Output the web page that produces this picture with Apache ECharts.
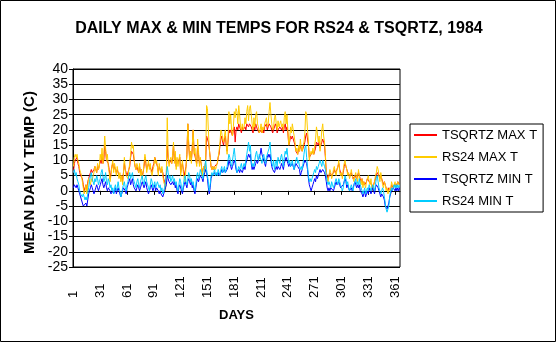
<!DOCTYPE html>
<html>
<head>
<meta charset="utf-8">
<script src="https://cdn.jsdelivr.net/npm/echarts@6/dist/echarts.min.js"></script>
<style>
html,body{margin:0;padding:0;background:#fff;}
#chart{width:558px;height:344px;}
</style>
</head>
<body>
<div id="chart"></div>
<script>
var days = [];
for (var d = 1; d <= 366; d++) { days.push(String(d)); }

var yTicks = [-25, -20, -15, -10, -5, 0, 5, 10, 15, 20, 25, 30, 35, 40];

var tsqrtzMax = [
6,9,10,10,11,9,8,6,5,5,
4,2,0,1,2,0,3,4,5,6,
7,6,6,7,8,7,6,8,7,7,
10,9,12,9,10,15,13,10,10,9,
7,4,6,8,9,7,8,7,6,7,
7,5,5,4,5,3,6,9,7,6,
5,5,7,8,11,13,13,12,10,8,
7,8,8,6,8,6,7,5,6,8,
11,9,7,8,9,8,8,7,6,8,
9,11,10,9,8,6,8,7,6,7,
6,4,3,2,6,15,11,9,10,10,
9,11,15,10,12,8,10,9,10,11,
6,8,9,7,5,5,8,12,22,15,
11,13,10,14,20,13,13,10,9,15,
12,9,10,9,6,7,8,7,10,18,
17,16,14,11,8,7,8,7,8,8,
8,9,11,12,15,17,18,16,15,17,
18,15,13,16,20,19,20,19,18,20,
21,16,20,21,20,22,21,20,19,21,
20,20,21,20,22,22,21,22,22,21,
20,19,21,20,22,21,20,20,19,19,
20,19,20,19,21,21,22,20,21,22,
22,21,20,19,20,21,22,21,19,20,
20,21,21,20,21,19,21,22,20,21,
19,15,16,18,17,18,17,16,15,13,
13,12,14,13,15,14,13,14,15,16,
18,19,17,15,11,11,12,12,13,12,
13,14,16,16,15,16,14,15,16,17,
16,15,11,6,5,4,5,6,6,5,
5,6,7,6,6,7,8,9,7,6,
6,5,6,8,9,8,7,6,6,5,
5,6,5,4,4,5,5,4,4,6,
5,4,3,4,2,3,2,2,3,4,
4,3,3,3,2,1,2,3,4,5,
6,6,5,4,5,4,3,2,3,2,
1,1,0,1,1,0,2,2,1,2,
2,2,2,3,3,2
];

var rs24Max = [
8,11,12,11,12,10,9,7,6,5,
3,1,-1,0,2,-1,2,4,3,2,
4,3,5,6,8,7,6,9,7,8,
12,10,14,9,12,18,14,10,12,8,
6,3,5,8,10,6,9,7,5,8,
8,4,6,3,5,2,6,11,7,5,
5,4,7,9,12,16,14,15,10,8,
7,9,8,6,9,5,7,4,6,9,
12,10,6,8,10,7,9,6,5,7,
8,11,9,10,8,5,9,7,6,8,
5,3,2,0,6,24,12,8,10,11,
9,12,16,9,13,7,11,8,10,12,
5,8,10,6,4,3,8,12,22,16,
10,13,9,15,20,12,14,10,8,17,
13,8,11,9,5,7,8,6,10,28,
27,20,14,11,8,7,8,7,8,7,
8,9,11,13,16,20,19,17,16,18,
20,15,12,17,26,22,25,20,18,21,
26,24,27,26,22,28,25,21,20,22,
20,21,24,22,26,28,23,27,28,25,
22,20,24,21,25,26,22,21,19,20,
22,19,21,20,22,23,24,21,22,26,
29,25,22,20,21,24,25,22,20,23,
21,22,23,21,22,20,24,26,22,25,
20,15,17,21,19,22,20,18,16,13,
14,12,15,13,17,14,13,15,16,19,
26,25,20,16,10,12,13,12,14,12,
15,17,21,19,16,18,13,16,20,22,
18,16,12,5,4,3,5,7,6,4,
5,7,8,6,5,7,8,10,6,5,
6,4,7,9,10,8,7,5,6,4,
5,7,5,4,3,5,6,4,3,7,
5,3,2,4,1,3,2,1,3,4,
5,3,2,4,1,0,2,3,5,6,
8,7,5,3,6,4,2,1,3,2,
0,1,-1,0,1,-1,3,2,1,2,
3,1,2,3,2,2
];

var tsqrtzMin = [
1,2,2,1,2,1,0,-1,-2,-3,
-4,-5,-5,-5,-4,-5,-3,-1,0,1,
2,1,0,-1,0,1,2,1,0,1,
2,3,4,2,1,2,3,1,0,1,
1,0,-1,-1,0,-1,0,1,-1,0,
1,0,-1,-2,-1,0,1,1,0,-1,
1,2,3,4,2,3,4,2,1,1,
0,1,2,1,0,1,2,3,2,1,
2,3,1,0,-1,-1,1,2,1,0,
1,2,0,1,1,0,-1,0,-1,-1,
-2,-1,0,1,2,5,4,3,3,2,
2,3,2,3,1,2,0,-1,1,2,
2,0,-1,1,2,3,2,1,3,4,
3,2,3,1,2,0,-1,1,3,4,
3,4,5,5,4,3,5,6,7,6,
4,1,-1,1,4,5,5,5,6,5,
5,5,6,5,5,6,7,6,6,7,
6,6,7,8,10,9,8,7,8,9,
10,9,7,6,6,7,6,7,7,6,
7,8,7,9,10,11,12,11,12,9,
7,8,7,8,9,10,9,10,11,12,
14,12,11,10,9,8,10,11,12,11,
12,10,8,7,7,6,7,8,7,8,
8,7,8,9,8,7,9,10,11,10,
9,8,9,8,8,9,8,7,8,9,
9,8,8,7,5,6,7,8,9,10,
10,9,7,4,2,1,0,1,2,3,
4,3,5,4,5,6,7,6,6,7,
7,6,5,3,1,0,1,0,1,1,
1,0,1,2,3,2,2,3,2,1,
1,1,2,3,4,3,1,2,1,0,
0,1,0,1,2,3,2,1,2,1,
2,0,0,-1,-2,-1,0,-2,-1,0,
-1,1,0,-1,0,1,0,-1,1,2,
2,1,0,-1,-2,-1,-1,-2,-3,-5,
-5,-6,-5,-4,-2,-1,0,0,1,1,
0,1,0,1,0,1
];

var rs24Min = [
6,7,5,6,4,3,2,0,-1,-1,
-2,-1,-2,-3,-2,-3,-1,1,3,5,
6,4,3,2,4,3,5,4,2,3,
4,6,7,5,3,4,6,3,2,4,
3,1,2,0,1,-1,1,2,0,1,
3,1,0,-2,-1,1,2,3,1,0,
2,3,5,6,4,5,6,4,3,2,
1,3,4,2,1,3,4,5,3,2,
4,5,3,2,1,0,2,4,3,1,
2,3,1,2,3,2,1,2,0,1,
-1,0,1,3,5,8,6,4,5,3,
4,5,3,4,2,3,1,0,2,4,
3,1,0,2,4,5,3,2,4,6,
5,3,4,2,3,1,0,2,5,6,
4,5,7,6,5,4,6,8,10,7,
5,3,0,2,5,6,5,6,7,5,
6,5,7,6,5,7,8,6,7,8,
6,7,8,10,12,11,9,8,10,12,
14,11,8,6,7,8,7,8,9,7,
8,9,8,10,12,14,16,13,15,10,
8,9,8,10,12,13,11,10,12,11,
10,9,11,12,10,9,11,12,13,14,
16,12,9,8,10,7,9,10,8,11,
10,9,11,12,10,8,11,13,12,14,
11,9,10,8,9,10,8,7,9,10,
11,9,10,8,7,8,7,9,12,14,
15,11,8,5,3,4,3,4,5,6,
7,6,8,7,8,9,10,9,8,10,
9,8,7,5,3,2,3,2,1,3,
2,1,2,3,4,3,2,4,3,2,
1,0,1,3,5,4,2,3,1,0,
1,2,1,0,2,3,4,2,3,2,
4,2,1,0,-1,0,1,-1,0,1,
0,2,1,0,1,2,1,0,2,4,
5,3,1,0,-1,0,1,0,-2,-4,
-6,-7,-6,-5,-2,0,1,0,1,2,
1,2,1,2,1,2
];

var seriesNames = ['TSQRTZ MAX T', 'RS24 MAX T', 'TSQRTZ MIN T', 'RS24 MIN T'];
var seriesData = [tsqrtzMax, rs24Max, tsqrtzMin, rs24Min];
var seriesColors = ['#FF0000', '#FFCC00', '#0000FF', '#00CCFF'];

var FONT = '"Liberation Sans", Arial, sans-serif';
var chart = echarts.init(document.getElementById('chart'), null, {renderer: 'canvas'});

var series = seriesNames.map(function (n, i) {
  return {
    name: n,
    type: 'line',
    data: seriesData[i],
    symbol: 'none',
    showSymbol: false,
    lineStyle: {color: seriesColors[i], width: 1},
    itemStyle: {color: seriesColors[i]},
    animation: false
  };
});

chart.setOption({
  animation: false,
  backgroundColor: '#fff',
  title: {
    text: 'DAILY MAX & MIN TEMPS FOR RS24 & TSQRTZ, 1984',
    left: 'center',
    top: 21,
    padding: 0,
    textStyle: {fontFamily: FONT, fontSize: 16, fontWeight: 'bold', color: '#000'}
  },
  legend: {
    orient: 'vertical',
    left: 410,
    top: 124,
    padding: [4, 6, 4, 4],
    itemGap: 8,
    itemWidth: 23,
    itemHeight: 2,
    icon: 'rect',
    borderColor: '#000',
    borderWidth: 1,
    backgroundColor: '#fff',
    data: seriesNames,
    textStyle: {fontFamily: FONT, fontSize: 13, color: '#000', lineHeight: 14, height: 14}
  },
  grid: {
    left: 73, right: 158, top: 69, bottom: 77,
    show: true, borderColor: '#000', borderWidth: 1, backgroundColor: '#fff',
    containLabel: false
  },
  xAxis: {
    type: 'category',
    data: days,
    boundaryGap: true,
    name: 'DAYS',
    nameLocation: 'middle',
    nameGap: 42,
    nameTextStyle: {fontFamily: FONT, fontSize: 13, fontWeight: 'bold', color: '#000'},
    axisLine: {show: true, lineStyle: {color: '#000', width: 1}},
    axisTick: {show: true, interval: 29, alignWithLabel: true, length: 4, lineStyle: {color: '#000'}},
    axisLabel: {interval: 29, rotate: 90, align: 'left', margin: 31, fontFamily: FONT, fontSize: 13, color: '#000'},
    splitLine: {show: false}
  },
  yAxis: {
    type: 'value',
    min: yTicks[0],
    max: yTicks[yTicks.length - 1],
    interval: 5,
    name: 'MEAN DAILY TEMP (C)',
    nameLocation: 'middle',
    nameRotate: 90,
    nameGap: 36,
    nameTextStyle: {fontFamily: FONT, fontSize: 15, fontWeight: 'bold', color: '#000', padding: [0, 9, 0, 0]},
    axisLine: {show: true, lineStyle: {color: '#000', width: 1}},
    axisTick: {show: true, length: 4, lineStyle: {color: '#000'}},
    axisLabel: {margin: 5, fontFamily: FONT, fontSize: 14, color: '#000'},
    splitLine: {show: true, lineStyle: {color: '#000', width: 1, type: 'solid'}}
  },
  graphic: [{
    type: 'rect',
    shape: {x: 0.5, y: 0.5, width: 555, height: 341},
    style: {fill: null, stroke: '#000', lineWidth: 1},
    silent: true,
    z: 100
  }],
  series: series
});
</script>
</body>
</html>
